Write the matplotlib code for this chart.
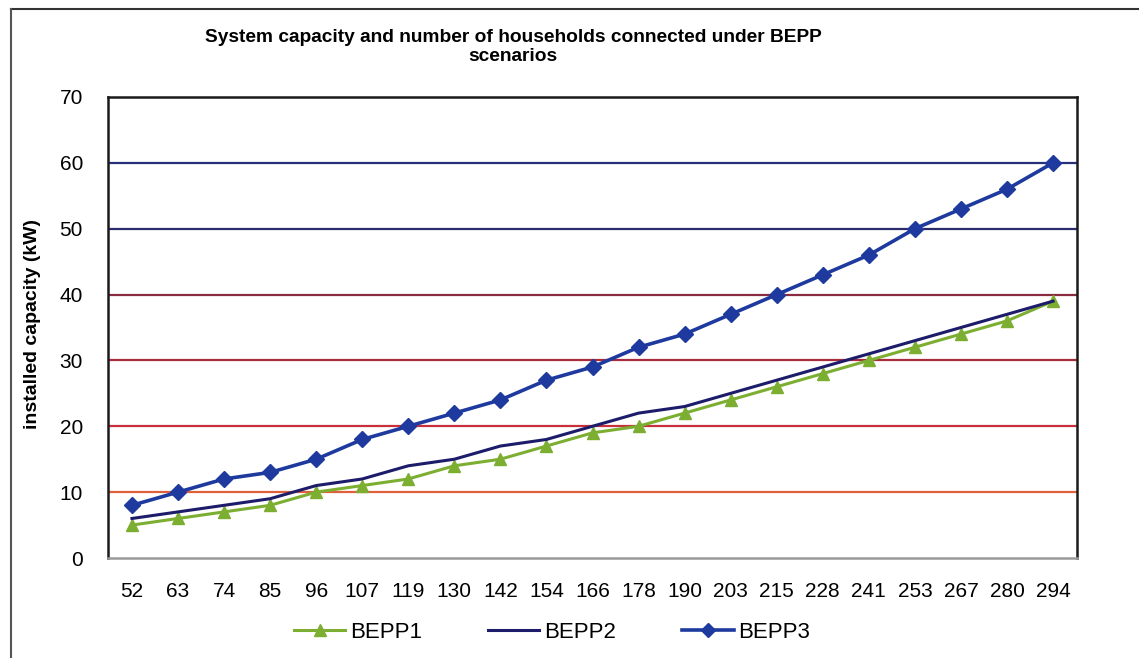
import matplotlib
matplotlib.use("Agg")
import matplotlib.pyplot as plt
from matplotlib.lines import Line2D

plt.rcParams['font.family'] = ['Liberation Sans', 'DejaVu Sans']

# Number of households connected (category axis)
households = ["52", "63", "74", "85", "96", "107", "119", "130", "142", "154", "166",
              "178", "190", "203", "215", "228", "241", "253", "267", "280", "294"]

# Installed capacity (kW) per scenario
bepp1 = [5, 6, 7, 8, 10, 11, 12, 14, 15, 17, 19, 20, 22, 24, 26, 28, 30, 32, 34, 36, 39]
bepp2 = [6, 7, 8, 9, 11, 12, 14, 15, 17, 18, 20, 22, 23, 25, 27, 29, 31, 33, 35, 37, 39]
bepp3 = [8, 10, 12, 13, 15, 18, 20, 22, 24, 27, 29, 32, 34, 37, 40, 43, 46, 50, 53, 56, 60]

y_ticks = [0, 10, 20, 30, 40, 50, 60, 70]
grid_colors = {10: "#e0603c", 20: "#c8303c", 30: "#a82c3c", 40: "#8a2c40",
               50: "#2c2c6c", 60: "#28307c"}

fig = plt.figure(figsize=(11.39, 6.58), dpi=100)
ax = fig.add_axes([108 / 1139, 1 - 558 / 658, (1077 - 108) / 1139, (558 - 97) / 658])

x = list(range(len(households)))

for val, col in grid_colors.items():
    ax.axhline(val, color=col, lw=1.6, zorder=1)

c1, c2, c3 = "#7cae32", "#1c1c6a", "#1e3a9e"
ax.plot(x, bepp1, color=c1, lw=2.2, marker="^", ms=9, mfc=c1, mec=c1, zorder=3)
ax.plot(x, bepp2, color=c2, lw=2.2, zorder=4)
ax.plot(x, bepp3, color=c3, lw=2.6, marker="D", ms=8, mfc=c3, mec=c3, zorder=5)

ax.set_xlim(-0.52, len(households) - 0.48)
ax.set_ylim(0, 70)
ax.set_yticks(y_ticks)
ax.set_yticklabels([str(v) for v in y_ticks], fontsize=15)
ax.set_xticks(x)
ax.set_xticklabels(households, fontsize=15)
ax.tick_params(axis="both", length=0)
ax.tick_params(axis="x", pad=17)
ax.tick_params(axis="y", pad=18)

for side in ["left", "top", "right"]:
    ax.spines[side].set_color("#1a1a1a")
    ax.spines[side].set_linewidth(1.8)
ax.spines["bottom"].set_color("#9a9a9a")
ax.spines["bottom"].set_linewidth(1.8)

ax.set_ylabel("installed capacity (kW)", fontsize=14, fontweight="bold")
ax.yaxis.set_label_coords(-(108 - 41) / (1077 - 108), (558 - 324) / (558 - 97))

fig.text(513 / 1139, 1 - 47 / 658,
         "System capacity and number of households connected under BEPP\nscenarios",
         ha="center", va="center", fontsize=13.8, fontweight="bold", linespacing=1.1)

handles = [
    Line2D([], [], color=c1, lw=2.2, marker="^", ms=9),
    Line2D([], [], color=c2, lw=2.2),
    Line2D([], [], color=c3, lw=2.6, marker="D", ms=7),
]
fig.legend(handles, ["BEPP1", "BEPP2", "BEPP3"], loc="center",
           bbox_to_anchor=(552 / 1139, 1 - 632 / 658), ncol=3, frameon=False,
           fontsize=16, handlelength=2.3, handletextpad=0.2, columnspacing=3.0)

# Outer frame edges (top and left)
fig.add_artist(Line2D([11 / 1139, 1.0], [1 - 9 / 658, 1 - 9 / 658],
                      transform=fig.transFigure, color="#333333", lw=1.5))
fig.add_artist(Line2D([11 / 1139, 11 / 1139], [0.0, 1 - 9 / 658],
                      transform=fig.transFigure, color="#555555", lw=1.5))

fig.savefig("out.png", dpi=100)
